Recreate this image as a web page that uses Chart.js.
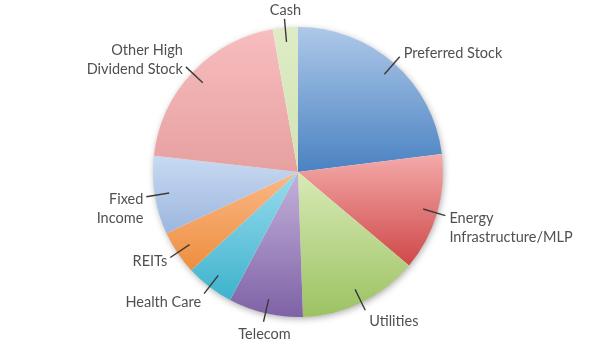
<!DOCTYPE html>
<html>
<head>
<meta charset="utf-8">
<script src="https://cdn.jsdelivr.net/npm/chart.js@4.4.1/dist/chart.umd.min.js"></script>
<style>
html,body{margin:0;padding:0;background:#fff;}
#wrap{width:600px;height:352px;position:relative;}
</style>
</head>
<body>
<div id="wrap"><canvas id="c"></canvas></div>
<script>
const categories = [["Preferred Stock"], ["Energy", "Infrastructure/MLP"], ["Utilities"], ["Telecom"], ["Health Care"], ["REITs"], ["Fixed", "Income"], ["Other High", "Dividend Stock"], ["Cash"]];
const values = [23.0, 13.1, 13.3, 8.3, 5.4, 4.9, 8.7, 20.4, 2.8];
const topColors = ["#aec8e8", "#f4aaaa", "#d8eab6", "#c4b2da", "#98dcec", "#fab888", "#c8daf2", "#f8bdbf", "#dfecc6"];
const bottomColors = ["#4a82c2", "#cf4848", "#9cc262", "#7e62a6", "#3eb2ce", "#ee8e3e", "#9cb6de", "#e6a0a0", "#d2e3b2"];

function sliceGradient(context) {
  const chart = context.chart;
  const area = chart.chartArea;
  const i = context.dataIndex;
  if (!area) return topColors[i];
  const cx = (area.left + area.right) / 2;
  const cy = (area.top + area.bottom) / 2;
  const r = Math.min(area.right - area.left, area.bottom - area.top) / 2;
  const total = values.reduce((a, b) => a + b, 0);
  let start = 0;
  for (let k = 0; k < i; k++) start += values[k] / total * Math.PI * 2;
  const end = start + values[i] / total * Math.PI * 2;
  let ys = [cy, cy - r * Math.cos(start), cy - r * Math.cos(end)];
  if (start <= 0 && end >= 0) ys.push(cy - r);
  if (start <= Math.PI && end >= Math.PI) ys.push(cy + r);
  if (start <= 2 * Math.PI && end >= 2 * Math.PI) ys.push(cy - r);
  const y0 = Math.min(...ys), y1 = Math.max(...ys);
  const g = chart.ctx.createLinearGradient(0, y0, 0, y1);
  g.addColorStop(0, topColors[i]);
  g.addColorStop(1, bottomColors[i]);
  return g;
}

const shadowPlugin = {
  id: 'shadow',
  beforeDatasetsDraw(chart) {
    const arc = chart.getDatasetMeta(0).data[0];
    if (!arc) return;
    const ctx = chart.ctx;
    ctx.save();
    ctx.shadowColor = 'rgba(0,0,0,0.35)';
    ctx.shadowBlur = 7;
    ctx.shadowOffsetX = 1;
    ctx.shadowOffsetY = 2;
    ctx.fillStyle = '#ffffff';
    ctx.beginPath();
    ctx.arc(arc.x, arc.y, arc.outerRadius - 0.5, 0, Math.PI * 2);
    ctx.fill();
    ctx.restore();
  }
};

const labelPlugin = {
  id: 'outLabels',
  afterDatasetsDraw(chart) {
    const ctx = chart.ctx;
    const meta = chart.getDatasetMeta(0);
    ctx.save();
    ctx.font = '14.5px Lato, "Open Sans", sans-serif';
    ctx.fillStyle = '#505050';
    ctx.strokeStyle = '#3a3a3a';
    ctx.lineWidth = 1.4;
    const lh = 19;
    meta.data.forEach((arc, i) => {
      const mid = (arc.startAngle + arc.endAngle) / 2;
      const a = mid + Math.PI / 2;
      const s = Math.sin(a), c = Math.cos(a);
      const R = arc.outerRadius;
      const x0 = arc.x + R * 0.9 * s, y0 = arc.y - R * 0.9 * c;
      const x1 = arc.x + R * 1.06 * s, y1 = arc.y - R * 1.06 * c;
      ctx.beginPath();
      ctx.moveTo(x0, y0);
      ctx.lineTo(x1, y1);
      ctx.stroke();
      const lines = categories[i];
      const n = lines.length;
      ctx.textBaseline = 'middle';
      let tx, cyB;
      if (Math.abs(s) < 0.3) {
        ctx.textAlign = 'center';
        tx = x1 + 1;
        if (c > 0) cyB = y1 - 9 - (n - 1) * lh / 2;
        else cyB = y1 + 13 + (n - 1) * lh / 2;
      } else {
        if (s > 0) { ctx.textAlign = 'left'; tx = x1 + 4; }
        else { ctx.textAlign = 'right'; tx = x1 - 3; }
        if (c > 0.3) cyB = y1 - (n - 1) * 4 - 3;
        else cyB = y1 + (n - 1) * lh / 2 + 3 + Math.max(0, -c - 0.5) * 20;
      }
      lines.forEach((t, k) => {
        ctx.fillText(t, tx, cyB + (k - (n - 1) / 2) * lh);
      });
    });
    ctx.restore();
  }
};

new Chart(document.getElementById('c'), {
  type: 'pie',
  data: {
    labels: categories.map(l => l.join(' ')),
    datasets: [{
      data: values,
      backgroundColor: sliceGradient,
      borderWidth: 0
    }]
  },
  options: {
    responsive: true,
    maintainAspectRatio: false,
    animation: false,
    layout: { padding: { left: 153, right: 157, top: 27, bottom: 35 } },
    plugins: { legend: { display: false }, tooltip: { enabled: false } }
  },
  plugins: [shadowPlugin, labelPlugin]
});
</script>
</body>
</html>
